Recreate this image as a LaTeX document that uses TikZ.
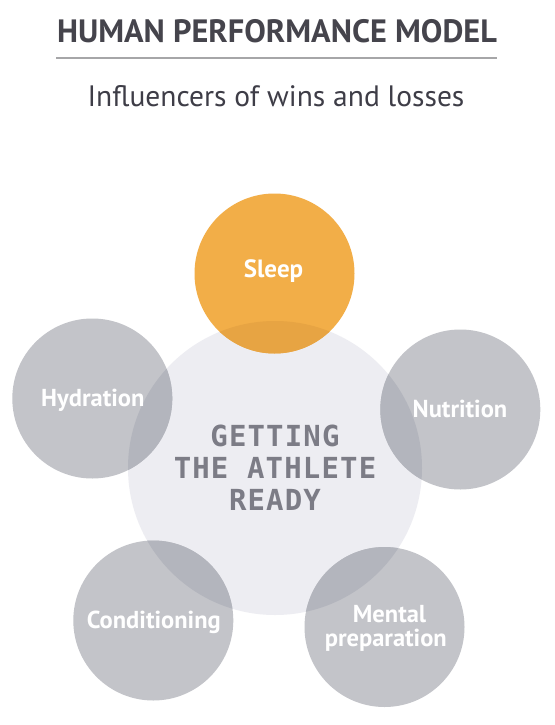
\documentclass[tikz,border=0pt]{standalone}
\usepackage{fontspec}
\setmainfont{PT Sans}
\newfontfamily\monofnt[LetterSpace=4]{DejaVu Sans Mono}
\definecolor{titletext}{RGB}{69,68,76}
\definecolor{subtext}{RGB}{62,61,71}
\definecolor{rulec}{RGB}{166,166,168}
\definecolor{orangec}{RGB}{242,174,72}
\definecolor{orangeov}{RGB}{231,164,67}
\definecolor{greyc}{RGB}{195,196,201}
\definecolor{greyov}{RGB}{179,181,189}
\definecolor{coref}{RGB}{237,237,242}
\definecolor{ctrtext}{RGB}{124,124,134}
\tikzset{
  bubble/.style={circle, minimum size=160pt, inner sep=0pt, fill=greyc},
  sleepbubble/.style={bubble, fill=orangec},
  core/.style={circle, minimum size=294pt, inner sep=0pt, fill=coref},
  lbl/.style={anchor=base, text=white, inner sep=0pt, font={\bfseries\fontsize{24.5}{28}\selectfont}},
  ctr/.style={anchor=base, text=ctrtext, inner sep=0pt, font={\monofnt\bfseries\fontsize{29}{32}\selectfont}},
}
\begin{document}
\begin{tikzpicture}[x=1pt,y=-1pt]
\fill[white] (0,0) rectangle (554,725);
\useasboundingbox (0,0) rectangle (554,725);
% header
\node[anchor=base, inner sep=0pt, text=titletext, font={\bfseries\fontsize{32.3}{36}\selectfont}] (title) at (277,43) {HUMAN PERFORMANCE MODEL};
\coordinate (ruleL) at (56,58);
\coordinate (ruleR) at (497,58);
\draw[rulec, line width=1.5pt] (ruleL) -- (ruleR);
\node[anchor=base, inner sep=0pt, text=subtext, font={\fontsize{29.5}{33}\selectfont}] (subtitle) at (276,106) {Influencers of wins and losses};
% circles
\node[core] (core) at (275,468) {};
\node[sleepbubble] (sleep) at (274.5,273.5) {};
\node[bubble] (hyd) at (92.3,398.5) {};
\node[bubble] (nut) at (460.3,409.5) {};
\node[bubble] (cond) at (153.3,620.5) {};
\node[bubble] (ment) at (384.5,627) {};
% overlaps
\begin{scope}
  \clip (core.center) circle[radius=147pt];
  \fill[orangeov] (sleep.center) circle[radius=80pt];
  \fill[greyov] (hyd.center) circle[radius=80pt];
  \fill[greyov] (nut.center) circle[radius=80pt];
  \fill[greyov] (cond.center) circle[radius=80pt];
  \fill[greyov] (ment.center) circle[radius=80pt];
\end{scope}
% labels
\node[lbl, font={\bfseries\fontsize{25}{28}\selectfont}] (sleeptxt) at (273.5,277.5) {Sleep};
\node[lbl] (hydtxt) at (92.8,406.7) {Hydration};
\node[lbl] (nuttxt) at (460,417.3) {Nutrition};
\node[lbl] (condtxt) at (153.8,628.3) {Conditioning};
\node[lbl] (menttxtA) at (389.5,622.3) {Mental};
\node[lbl] (menttxtB) at (385.8,646.7) {preparation};
% core text
\node[ctr] (ctrA) at (275,446) {GETTING};
\node[ctr] (ctrB) at (275,478) {THE ATHLETE};
\node[ctr] (ctrC) at (275,510) {READY};
\end{tikzpicture}
\end{document}
